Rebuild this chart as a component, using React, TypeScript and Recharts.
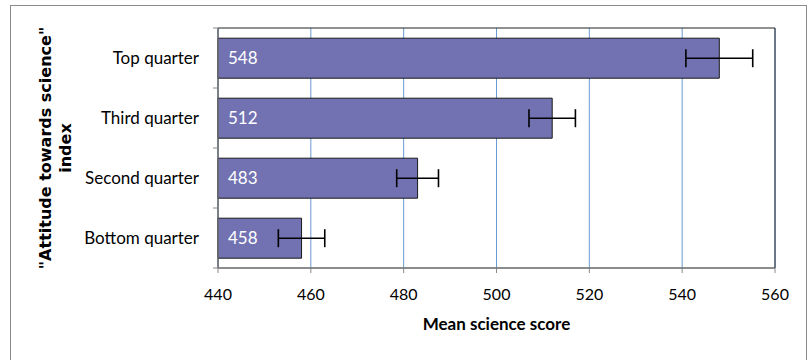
import React from "react";
import {
  BarChart,
  Bar,
  XAxis,
  YAxis,
  CartesianGrid,
  ErrorBar,
  LabelList,
  ReferenceArea,
  Label,
} from "recharts";

const categories = ["Top quarter", "Third quarter", "Second quarter", "Bottom quarter"];
const meanScores = [548, 512, 483, 458];
const errorMargins = [7.2, 5, 4.5, 5];
const xTicks = [440, 460, 480, 500, 520, 540, 560];

const data = categories.map((name, i) => ({
  name,
  score: meanScores[i],
  err: errorMargins[i],
}));

const FONT = "Lato, 'Open Sans', sans-serif";

function CategoryTick(props: any) {
  const { x, y, payload, index, visibleTicksCount } = props;
  const half = payload.offset ?? 30;
  const axisX = x + 19;
  return (
    <g>
      <line x1={axisX - 5} x2={axisX} y1={y - half} y2={y - half} stroke="#888" />
      {index === visibleTicksCount - 1 && (
        <line x1={axisX - 5} x2={axisX} y1={y + half} y2={y + half} stroke="#888" />
      )}
      <text
        x={x}
        y={y}
        dy="0.35em"
        textAnchor="end"
        fill="#000"
        fontSize={17}
        fontFamily={FONT}
      >
        {payload.value}
      </text>
    </g>
  );
}

function YTitle(props: any) {
  const { viewBox } = props;
  const cy = viewBox.y + viewBox.height / 2;
  const cx = 45;
  return (
    <text
      transform={`rotate(-90, ${cx}, ${cy})`}
      x={cx}
      y={cy}
      textAnchor="middle"
      fontSize={16}
      fontWeight="bold"
      fontFamily="'DejaVu Sans', Verdana, sans-serif"
      fill="#000"
    >
      <tspan x={cx} dy="0.35em">"Attitude towards science"</tspan>
      <tspan x={cx} dy="1.25em">index</tspan>
    </text>
  );
}

export default function App() {
  return (
    <div
      style={{
        position: "absolute",
        left: 0,
        top: 0,
        width: 810,
        height: 360,
        background: "#fff",
        overflow: "hidden",
      }}
    >
      <div
        style={{
          position: "absolute",
          left: 10,
          top: 5,
          width: 797,
          height: 370,
          border: "1px solid #8c8c8c",
          boxSizing: "border-box",
        }}
      />
      <BarChart
        width={810}
        height={360}
        data={data}
        layout="vertical"
        margin={{ top: 28, right: 35, bottom: 22, left: 0 }}
        barCategoryGap="17%"
      >
        <CartesianGrid horizontal={false} stroke="#6a9ad6" strokeWidth={1} />
        <ReferenceArea x1={440} x2={560} fill="none" stroke="#222" strokeWidth={1} ifOverflow="visible" />
        <XAxis
          type="number"
          domain={[440, 560]}
          ticks={xTicks}
          height={70}
          stroke="#888"
          tickSize={5}
          tickMargin={16}
          tick={{ fill: "#000", fontSize: 16, fontFamily: FONT }}
        >
          <Label
            value="Mean science score"
            position="insideBottom"
            offset={8}
            fill="#000"
            fontSize={17}
            fontWeight="bold"
            fontFamily={FONT}
          />
        </XAxis>
        <YAxis
          type="category"
          dataKey="name"
          width={218}
          stroke="#888"
          tickLine={false}
          tick={<CategoryTick />}
          tickMargin={0}
          tickSize={19}
          label={<YTitle />}
        />
        <Bar
          dataKey="score"
          fill="#7272b2"
          stroke="#1a1a1a"
          strokeWidth={1}
          isAnimationActive={false}
        >
          <LabelList
            dataKey="score"
            position="insideLeft"
            offset={10}
            fill="#fff"
            fontSize={17}
            fontFamily={FONT}
          />
          <ErrorBar
            dataKey="err"
            direction="x"
            width={9}
            stroke="#000"
            strokeWidth={1.6}
            isAnimationActive={false}
          />
        </Bar>
      </BarChart>
    </div>
  );
}
